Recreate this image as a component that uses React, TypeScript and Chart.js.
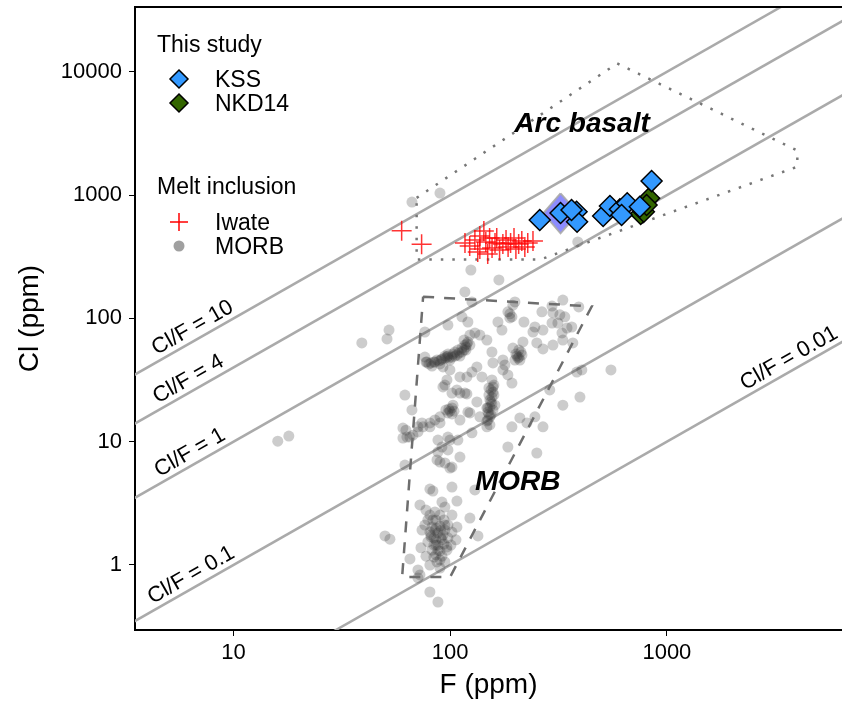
import { useEffect, useRef } from "react";
import { Chart, registerables } from "chart.js";

Chart.register(...registerables);

const FONT = '"Liberation Sans", Arial, Helvetica, sans-serif';

// axis ranges and ticks
const xRange = [3.51, 6430];
const yRange = [0.297, 33560];
const xTicks = [10, 100, 1000];
const yTicks = [1, 10, 100, 1000, 10000];

// This study
const kssF = [259, 323, 383, 385, 363, 508, 546, 607, 656, 618, 750, 850];
const kssCl = [628, 716, 733, 608, 757, 677, 816, 767, 858, 690, 805, 1300];
const nkdF = [828, 757, 783, 806];
const nkdCl = [942, 703, 733, 831];
// mean (large translucent diamond)
const meanF = [323, 390, 323, 269, 323];
const meanCl = [1034, 712, 490, 712, 1034];

// Melt inclusions: Iwate
const iwateF = [59.7, 73.8, 117, 123, 130, 134, 137, 137, 143, 146, 149, 152, 156, 161, 164, 169, 175, 181, 185, 190, 197, 201, 207, 214, 221, 228, 241];
const iwateCl = [514, 399, 409, 386, 432, 346, 365, 466, 511, 417, 333, 449, 372, 409, 449, 359, 401, 432, 379, 409, 449, 365, 401, 424, 379, 409, 424];

// Melt inclusions: MORB
const morbF = [
  66.6, 89.7, 124.6, 167.8, 388, 39.1, 51.1, 52.2, 16.0, 18.0,
  76.4, 77.3, 116.9, 126, 198.9, 194.7, 331, 295, 392, 97.6,
  113.3, 120.7, 76.4, 184.6, 192.7, 188.6, 166.1, 173.3, 218.9, 265,
  298, 320.7, 338, 295, 314, 364, 346, 246, 268, 241,
  328, 368, 331, 298, 268, 251, 216.6, 214.3, 207.5, 212,
  203.2, 194.7, 78.1, 81.5, 85, 88.7, 91.6, 94.5, 96.6, 98.6,
  101.9, 105.1, 107.4, 109.7, 113.3, 115.7, 118.2, 119.4, 120.7, 123.3,
  130, 137.1, 118.2, 110.9, 99.7, 89.7, 82.4, 147.7, 155.8, 157.5,
  175.1, 178.8, 175.1, 184.6, 192.7, 157.5, 157.5, 155.8, 152.5, 152.5,
  149.3, 152.5, 147.7, 147.7, 159.1, 154.2, 150.9, 155.8, 149.3, 132.8,
  126, 119.4, 140.1, 99.7, 92.6, 96.6, 92.6, 110.9, 107.4, 116.9,
  101.9, 103, 99.7, 97.6, 95.5, 89.7, 85, 80.6, 74.9, 71,
  67.3, 63.1, 61.8, 66.6, 60.5, 91.6, 87.8, 97.6, 110.9, 123.3,
  137.1, 184.6, 251, 246, 209.7, 192.7, 226, 268, 331, 397,
  288, 405, 384, 552, 89.7, 94.5, 101.9, 110.9, 61.8, 94.5,
  101.9, 110.9, 119.4, 120.7, 132.8, 150.9, 147.7, 149.3, 62.5, 60.5,
  74.1, 80.6, 89.7, 87.8, 99.7, 97.6, 108.5, 126, 86.9, 99.7,
  71, 65.2, 80.6, 83.2, 101.9, 72.5, 91.6, 107.4, 130, 123.3,
  107.4, 134.3, 50, 52.7, 65.2, 71, 72.5, 71, 80.6, 87.8,
  80.6, 85, 89.7, 78.9, 85.9, 93.6, 76.4, 82.4, 89.7, 97.6,
  80.6, 87.8, 94.5, 101.9, 84.1, 90.6, 97.6, 78.9, 85.9, 93.6,
  100.8, 82.4, 89.7, 96.6, 77.3, 84.1, 91.6, 86.9, 94.5, 80.6,
  89.7, 77.3, 94.5, 101.9, 74.1, 106.3, 73.3, 85, 92.6, 87.8,
  83.2, 90.6, 85.9, 96.6, 81.5, 103, 94.5, 86.9, 97.6, 154.2,
  150.9, 155.8, 207.5, 198.9, 105.1, 108.5, 113.3, 116.9, 97.6, 90.6,
  84.1, 79.8, 115.7, 123.3, 157.5, 154.2, 159.1, 152.5, 160.8, 205.4,
  201, 209.7, 98.6, 104.1, 101.9, 188.6, 85.9, 91.6, 87.8, 84.1,
  94.5, 81.5, 89.7, 85.9,
];
const morbCl = [
  879, 1040, 247, 205, 417, 63.2, 68.1, 80.5, 10.1, 11.1,
  48.6, 44.3, 164, 136, 136, 128, 141, 126, 124, 88.4,
  103, 93.5, 77.6, 113, 103, 109, 93.5, 80.5, 93.5, 113,
  111, 107, 103, 91.8, 91.8, 85.2, 83.6, 85.2, 80.5, 77.6,
  76.2, 63.2, 66.8, 60.8, 56.5, 63.2, 64.4, 50.5, 48.6, 53.4,
  49.5, 57.5, 44.3, 43.5, 44.3, 45.2, 46.9, 47.7, 48.6, 47.7,
  48.6, 49.5, 50.5, 52.4, 53.4, 55.4, 58.6, 62, 64.4, 73.3,
  76.2, 73.3, 55.4, 49.5, 46, 42.7, 41.1, 66.8, 53.4, 43.5,
  46, 41.9, 38.2, 34.8, 29.9, 27.8, 25.3, 23, 21.8, 19.1,
  17.4, 15.9, 14.7, 13.2, 28.8, 26.3, 23.9, 20.2, 18.8, 40.4,
  36.7, 33.5, 33.5, 38.2, 40.4, 31.7, 27.8, 33.5, 26.3, 24.8,
  18.8, 19.8, 17.7, 17.1, 18.1, 15.9, 15, 14.2, 13.2, 12,
  11.3, 10.9, 23.9, 18.1, 12.9, 9.06, 8.25, 10.9, 15, 17.1,
  15.9, 9.06, 8.1, 15.9, 15.6, 13.2, 14.2, 13.2, 19.8, 23,
  26.3, 38.2, 36.7, 38.2, 6.84, 6.72, 6.23, 7.51, 6.47, 28.8,
  24.8, 24.8, 24.4, 17.4, 21, 27.3, 18.8, 15, 12.4, 10.7,
  14.2, 13.2, 14.2, 10.3, 10.3, 8.57, 10.3, 11.8, 7.11, 6.12,
  13.2, 10.9, 4.13, 3.98, 4.29, 3.07, 3.24, 3.3, 4.06, 2.4,
  2.03, 1.72, 1.72, 1.62, 1.12, 0.911, 0.83, 0.785, 0.604, 0.501,
  2.54, 2.69, 2.54, 2.32, 2.32, 2.32, 2.11, 2.03, 2.07, 2.11,
  1.85, 1.82, 1.92, 1.85, 1.66, 1.66, 1.66, 1.54, 1.45, 1.48,
  1.45, 1.32, 1.3, 1.32, 1.18, 1.16, 1.18, 1.06, 1.06, 1,
  0.945, 2.79, 2.95, 2.54, 1.92, 1.6, 1.38, 1.92, 1.75, 1.45,
  2.32, 1.92, 1.6, 1.4, 1.69, 51.4, 49.5, 46, 51.4, 21,
  16.8, 31.7, 55.4, 46, 53.4, 55.4, 57.5, 60.8, 49.5, 46,
  44.3, 42.7, 66.8, 60.8, 18.1, 16.5, 23.9, 13.7, 19.8, 47.7,
  51.4, 46, 18.4, 17.7, 16.8, 101, 2.0, 1.6, 1.32, 1.45,
  2.11, 1.75, 1.1, 1.21,
];

// Field outlines
const arcF = [70, 590, 4000, 4000, 260, 70, 70];
const arcCl = [950, 11700, 2300, 1700, 300, 300, 950];
const morbFieldF = [75, 450, 100, 60, 75];
const morbFieldCl = [150, 125, 0.8, 0.8, 150];

// Cl/F reference lines
const ratios = [10, 4, 1, 0.1, 0.01];
const ratioLabels = ["Cl/F = 10", "Cl/F = 4", "Cl/F = 1", "Cl/F = 0.1", "Cl/F = 0.01"];
const ratioLabelF = [6.9, 6.6, 6.7, 6.8, 3900];

// Field labels
const fieldLabels = ["Arc basalt", "MORB"];
const fieldLabelF = [406, 205];
const fieldLabelCl = [3250, 4.06];

const pts = (xs: number[], ys: number[]) => xs.map((x, i) => ({ x, y: ys[i] }));

const overlay = {
  id: "overlay",
  afterDatasetsDraw(chart: any) {
    const { ctx, chartArea: a, scales } = chart;
    const xs = scales.x;
    const ys = scales.y;
    ctx.save();
    // top frame line
    ctx.strokeStyle = "#000";
    ctx.lineWidth = 2;
    ctx.beginPath();
    ctx.moveTo(a.left - 1, a.top);
    ctx.lineTo(a.right, a.top);
    ctx.stroke();

    // ratio labels
    ctx.fillStyle = "#000";
    ctx.font = `22px ${FONT}`;
    ctx.textAlign = "center";
    ctx.textBaseline = "alphabetic";
    ratioLabels.forEach((t, i) => {
      const f = ratioLabelF[i];
      const r = ratios[i];
      const px = xs.getPixelForValue(f);
      const py = ys.getPixelForValue(f * r);
      const px2 = xs.getPixelForValue(f * 10);
      const py2 = ys.getPixelForValue(f * 10 * r);
      const ang = Math.atan2(py2 - py, px2 - px);
      ctx.save();
      ctx.translate(px, py);
      ctx.rotate(ang);
      ctx.fillText(t, 0, -6);
      ctx.restore();
    });

    // field labels
    ctx.font = `italic bold 28px ${FONT}`;
    fieldLabels.forEach((t, i) => {
      ctx.fillText(t, xs.getPixelForValue(fieldLabelF[i]), ys.getPixelForValue(fieldLabelCl[i]));
    });

    // legend
    ctx.font = `23px ${FONT}`;
    ctx.textAlign = "left";
    ctx.fillText("This study", 157, 52);
    ctx.fillText("KSS", 215, 87);
    ctx.fillText("NKD14", 215, 111);
    ctx.fillText("Melt inclusion", 157, 194);
    ctx.fillText("Iwate", 215, 230);
    ctx.fillText("MORB", 215, 254);

    const diamond = (cx: number, cy: number, r: number, fill: string) => {
      ctx.beginPath();
      ctx.moveTo(cx, cy - r);
      ctx.lineTo(cx + r, cy);
      ctx.lineTo(cx, cy + r);
      ctx.lineTo(cx - r, cy);
      ctx.closePath();
      ctx.fillStyle = fill;
      ctx.fill();
      ctx.lineWidth = 1.5;
      ctx.strokeStyle = "#000";
      ctx.stroke();
    };
    diamond(179, 79, 9, "#3399ff");
    diamond(179, 103, 9, "#336600");
    ctx.strokeStyle = "#ff0000";
    ctx.lineWidth = 1.5;
    ctx.beginPath();
    ctx.moveTo(170, 222);
    ctx.lineTo(188, 222);
    ctx.moveTo(179, 213);
    ctx.lineTo(179, 231);
    ctx.stroke();
    ctx.beginPath();
    ctx.arc(179, 246, 5.5, 0, Math.PI * 2);
    ctx.fillStyle = "#a0a0a0";
    ctx.fill();
    ctx.restore();
  },
};

const noPad = (s: any) => {
  s.paddingTop = 0;
  s.paddingBottom = 0;
  s.paddingLeft = 0;
  s.paddingRight = 0;
};

export default function App() {
  const ref = useRef<HTMLCanvasElement>(null);
  useEffect(() => {
    document.body.style.margin = "0";
    Chart.defaults.font.family = FONT;
    Chart.defaults.color = "#000";
    const lineSets = ratios.map((r, i) => ({
      label: ratioLabels[i],
      data: [
        { x: 1, y: r },
        { x: 100000, y: 100000 * r },
      ],
      showLine: true,
      borderColor: "#aaaaaa",
      borderWidth: 2.5,
      pointRadius: 0,
      fill: false,
      order: 10,
    }));
    const chart = new Chart(ref.current as HTMLCanvasElement, {
      type: "scatter",
      data: {
        datasets: [
          {
            label: "KSS",
            data: pts(kssF, kssCl),
            pointStyle: "rectRot",
            pointRadius: 10.5,
            backgroundColor: "#3399ff",
            borderColor: "#000",
            borderWidth: 1.5,
            order: 0,
          },
          {
            label: "NKD14",
            data: pts(nkdF, nkdCl),
            pointStyle: "rectRot",
            pointRadius: 10.5,
            backgroundColor: "#336600",
            borderColor: "#000",
            borderWidth: 1.5,
            order: 1,
          },
          {
            label: "mean",
            data: pts(meanF, meanCl),
            showLine: true,
            fill: "shape",
            backgroundColor: "rgba(120,120,255,0.85)",
            borderColor: "rgba(170,170,170,0.9)",
            borderWidth: 2,
            pointRadius: 0,
            order: 2,
          },
          {
            label: "Iwate",
            data: pts(iwateF, iwateCl),
            pointStyle: "cross",
            pointRadius: 10,
            borderColor: "rgba(255,0,0,0.8)",
            borderWidth: 1.5,
            order: 3,
          },
          {
            label: "MORB",
            data: pts(morbF, morbCl),
            pointStyle: "circle",
            pointRadius: 5.5,
            backgroundColor: "rgba(50,50,50,0.25)",
            borderWidth: 0,
            order: 5,
          },
          {
            label: "Arc field",
            data: pts(arcF, arcCl),
            showLine: true,
            borderColor: "#777777",
            borderWidth: 2.5,
            borderDash: [2.5, 9],
            pointRadius: 0,
            fill: false,
            order: 4,
          },
          {
            label: "MORB field",
            data: pts(morbFieldF, morbFieldCl),
            showLine: true,
            borderColor: "#6e6e6e",
            borderWidth: 2.5,
            borderDash: [11, 10],
            pointRadius: 0,
            fill: false,
            order: 4,
          },
          ...lineSets,
        ] as any,
      },
      options: {
        responsive: false,
        animation: false,
        events: [],
        layout: { autoPadding: false, padding: { top: 7, right: 0, left: 0, bottom: 0 } },
        plugins: { legend: { display: false }, tooltip: { enabled: false } },
        elements: { line: { tension: 0 } },
        scales: {
          x: {
            type: "logarithmic",
            min: xRange[0],
            max: xRange[1],
            afterBuildTicks: (s: any) => {
              s.ticks = xTicks.map((v) => ({ value: v }));
            },
            afterFit: (s: any) => {
              s.height = 74;
              noPad(s);
            },
            ticks: {
              callback: (v: any) => String(v),
              color: "#000",
              font: { size: 22 },
              padding: 4,
              maxRotation: 0,
              autoSkip: false,
            },
            grid: { drawOnChartArea: false, drawTicks: true, tickLength: 6, color: "#000", tickWidth: 1 },
            border: { display: true, color: "#000", width: 2 },
            title: {
              display: true,
              text: "F (ppm)",
              color: "#000",
              font: { size: 28, lineHeight: 1 },
              padding: { top: 0, bottom: 5 },
            },
          },
          y: {
            type: "logarithmic",
            min: yRange[0],
            max: yRange[1],
            afterBuildTicks: (s: any) => {
              s.ticks = yTicks.map((v) => ({ value: v }));
            },
            afterFit: (s: any) => {
              s.width = 135;
              noPad(s);
            },
            ticks: {
              callback: (v: any) => String(v),
              color: "#000",
              font: { size: 22 },
              padding: 7,
              autoSkip: false,
            },
            grid: { drawOnChartArea: false, drawTicks: true, tickLength: 6, color: "#000", tickWidth: 1 },
            border: { display: true, color: "#000", width: 2 },
            title: {
              display: true,
              text: "Cl (ppm)",
              color: "#000",
              font: { size: 28, lineHeight: 1 },
              padding: { top: 16, bottom: 0 },
            },
          },
        },
      } as any,
      plugins: [overlay],
    });
    return () => chart.destroy();
  }, []);
  return (
    <div style={{ width: 842, height: 704 }}>
      <canvas ref={ref} width={842} height={704} style={{ display: "block", width: 842, height: 704 }} />
    </div>
  );
}
